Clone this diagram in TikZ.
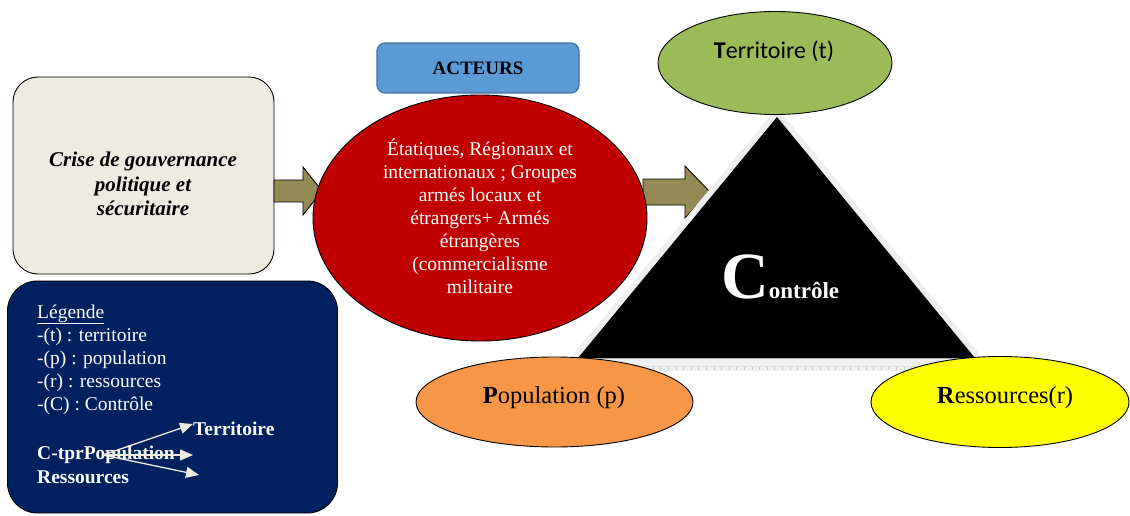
\documentclass[tikz,border=0pt]{standalone}
\usepackage{fontspec}
\setmainfont{Liberation Serif}
\newfontfamily\calibrifont{Carlito}
\usetikzlibrary{shapes.geometric,arrows.meta}
\definecolor{crisebg}{HTML}{EEECE1}
\definecolor{legnavy}{HTML}{002060}
\definecolor{arrowolive}{HTML}{948A54}
\definecolor{actfill}{HTML}{5B9BD5}
\definecolor{actborder}{HTML}{41719C}
\definecolor{actred}{HTML}{C00000}
\definecolor{terrgreen}{HTML}{9BBB59}
\definecolor{poporange}{HTML}{F79646}
\definecolor{resyellow}{HTML}{FFFF00}
\definecolor{legarrowc}{HTML}{EEECE1}
\definecolor{halo}{HTML}{EFEFEF}
\begin{document}
\begin{tikzpicture}[x=1pt,y=-1pt,
  blockarrow/.style={fill=arrowolive,draw=black,line width=0.9pt,line join=miter},
  ell/.style={ellipse,draw=black,line width=0.9pt,inner sep=0pt},
  legtext/.style={text=white,anchor=base west,inner sep=0pt,font=\fontsize{19.5}{23}\selectfont},
  legbold/.style={legtext,font=\fontsize{19.5}{23}\selectfont\bfseries},
  legarrow/.style={draw=legarrowc,line width=1.3pt,-{Triangle[length=13pt,width=11pt]}},
  elltext/.style={anchor=base,inner sep=0pt,font=\fontsize{24.5}{28}\selectfont}]
\useasboundingbox (0,0) rectangle (1130,516);

% left box
\node[draw=black,line width=0.9pt,fill=crisebg,rounded corners=25pt,minimum width=261pt,minimum height=197pt] (crise) at (143.5,175.5) {};
\node[align=center,inner sep=0pt,font=\fontsize{21}{24.5}\selectfont\bfseries\itshape] (crisetxt) at (143,184) {Crise de gouvernance\\politique et\\sécuritaire};

% legend box
\node[draw=black,line width=0.9pt,fill=legnavy,rounded corners=30pt,minimum width=330pt,minimum height=232pt] (leg) at (172.5,397) {};
\node[legtext] (l0) at (37,318) {\underline{Légende}};
\node[legtext] (l1) at (37,341) {-(t) : territoire};
\node[legtext] (l2) at (37,364) {-(p) : population};
\node[legtext] (l3) at (37,387) {-(r) : ressources};
\node[legtext] (l4) at (37,410) {-(C) : Contrôle};
\node[legbold] (lterr) at (193,435) {Territoire};
\node[legbold] (lctpr) at (37,459) {C-tprPopulation};
\node[legbold] (lres) at (37,483) {Ressources};
\coordinate (lstart) at (103,455);
\coordinate (lend1) at (193,424);
\coordinate (lend2) at (193,455);
\coordinate (lend3) at (199,475);
\draw[legarrow] (lstart) -- (lend1);
\draw[legarrow] (lstart) -- (lend2);
\draw[legarrow] (lstart) -- (lend3);

% block arrows
\draw[blockarrow] (274,180) -- (303,180) -- (303,167) -- (322,191) -- (303,215) -- (303,202) -- (274,202) -- cycle;
\draw[blockarrow] (643,179) -- (685,179) -- (685,166) -- (710,192) -- (685,218) -- (685,205) -- (643,205) -- cycle;

% acteurs
\node[draw=actborder,line width=1.2pt,fill=actfill,rounded corners=8pt,minimum width=202pt,minimum height=50pt,font=\fontsize{19}{22}\selectfont\bfseries] (act) at (478,68) {ACTEURS};
\node[ell,fill=actred,minimum width=334pt,minimum height=246pt] (red) at (480,218) {};
\node[align=center,inner sep=0pt,text=white,font=\fontsize{19.5}{23}\selectfont] (redtxt) at (480,216) {Étatiques, Régionaux et\\internationaux ; Groupes\\armés locaux et\\étrangers+ Armés\\étrangères\\(commercialisme\\militaire};

% triangle with halo
\fill[halo] (582,358) -- (965,358) -- (965,371) -- (590,371) -- cycle;
\draw[gray!45,line width=3pt,dash pattern=on 0.6pt off 7pt] (592,368) -- (962,368);
\draw[gray!25,line width=0.6pt] (592,366) -- (962,366);
\draw[halo,line width=12pt,line join=miter] (578,358) -- (777,117) -- (975,358);
\fill[black] (578,358) -- (777,117) -- (975,358) -- cycle;
\draw[gray!60,line width=0.8pt] (578,358) -- (975,358);
\node[anchor=base west,inner sep=0pt,text=white,font=\bfseries] (ctrl) at (721,298) {\fontsize{66}{66}\selectfont C\fontsize{23}{23}\selectfont ontrôle};

% ellipses
\node[ell,fill=terrgreen,minimum width=234pt,minimum height=103pt] (terr) at (775,63) {};
\node[elltext,font=\fontsize{24}{28}\selectfont\calibrifont] (terrtxt) at (774,59) {\textbf{T}erritoire (t)};
\node[ell,fill=poporange,minimum width=277pt,minimum height=90pt] (pop) at (554.5,402) {};
\node[elltext] (poptxt) at (554,403) {\textbf{P}opulation (p)};
\node[ell,fill=resyellow,minimum width=258pt,minimum height=91pt] (res) at (1000,402) {};
\node[elltext] (restxt) at (1005,403) {\textbf{R}essources(r)};
\end{tikzpicture}
\end{document}
